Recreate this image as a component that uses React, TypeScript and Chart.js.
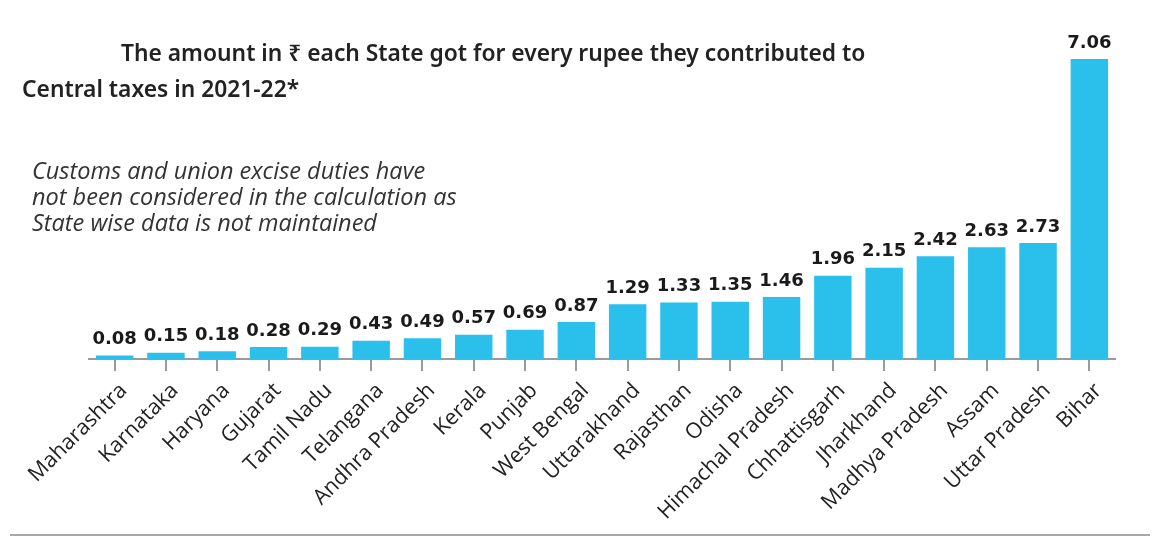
import React, { useEffect, useRef } from "react";
import { Chart, registerables } from "chart.js";

Chart.register(...registerables);

const states: string[] = [
  "Maharashtra", "Karnataka", "Haryana", "Gujarat", "Tamil Nadu", "Telangana",
  "Andhra Pradesh", "Kerala", "Punjab", "West Bengal", "Uttarakhand", "Rajasthan",
  "Odisha", "Himachal Pradesh", "Chhattisgarh", "Jharkhand", "Madhya Pradesh",
  "Assam", "Uttar Pradesh", "Bihar",
];
const amounts: number[] = [
  0.08, 0.15, 0.18, 0.28, 0.29, 0.43, 0.49, 0.57, 0.69, 0.87, 1.29, 1.33,
  1.35, 1.46, 1.96, 2.15, 2.42, 2.63, 2.73, 7.06,
];
const titleLine1 = "The amount in ₹ each State got for every rupee they contributed to";
const titleLine2 = "Central taxes in 2021-22*";
const noteLines: string[] = [
  "Customs and union excise duties have",
  "not been considered in the calculation as",
  "State wise data is not maintained",
];

const BAR_COLOR = "#2bbfec";

const valueLabels = {
  id: "valueLabels",
  afterDatasetsDraw(chart: any) {
    const ctx = chart.ctx;
    const meta = chart.getDatasetMeta(0);
    ctx.save();
    ctx.font = "bold 18px 'DejaVu Sans'";
    ctx.fillStyle = "#1a1a1a";
    ctx.textAlign = "center";
    ctx.textBaseline = "bottom";
    meta.data.forEach((bar: any, i: number) => {
      const v = chart.data.datasets[0].data[i];
      ctx.fillText(v.toFixed(2), bar.x, bar.y - 7);
    });
    ctx.restore();
  },
};

export default function App() {
  const ref = useRef<HTMLCanvasElement | null>(null);
  useEffect(() => {
    document.body.style.margin = "0";
    const chart = new Chart(ref.current as HTMLCanvasElement, {
      type: "bar",
      data: {
        labels: states,
        datasets: [
          {
            data: amounts,
            backgroundColor: BAR_COLOR,
            categoryPercentage: 1,
            barPercentage: 0.73,
          },
        ],
      },
      options: {
        animation: false,
        responsive: false,
        layout: { padding: { left: 89, right: 45, top: 59, bottom: 0 } },
        plugins: { legend: { display: false }, tooltip: { enabled: false }, title: { display: false } },
        scales: {
          y: { display: false, min: 0, max: 7.06 },
          x: {
            afterFit: (s: any) => {
              s.height = 184;
            },
            border: { display: true, color: "#9a9a9a", width: 2 },
            grid: {
              offset: false,
              drawOnChartArea: false,
              drawTicks: true,
              tickLength: 12,
              color: "#9a9a9a",
              lineWidth: 2,
            },
            ticks: {
              autoSkip: false,
              maxRotation: 45,
              minRotation: 45,
              color: "#222",
              padding: 7,
              labelOffset: 9,
              font: { family: "'Open Sans'", size: 21.5 },
            },
          },
        },
      },
      plugins: [valueLabels],
    });
    return () => chart.destroy();
  }, []);

  return (
    <div style={{ position: "relative", width: 1160, height: 543, background: "#fff", overflow: "hidden" }}>
      <canvas ref={ref} width={1160} height={543} style={{ position: "absolute", left: 0, top: 0 }} />
      <div
        style={{
          position: "absolute", left: 121, top: 40, lineHeight: "26px", whiteSpace: "nowrap",
          fontFamily: "'Noto Sans', sans-serif", fontWeight: 600, fontSize: 22.8, color: "#222",
        }}
      >
        {titleLine1}
      </div>
      <div
        style={{
          position: "absolute", left: 22, top: 76, lineHeight: "26px", whiteSpace: "nowrap",
          fontFamily: "'Noto Sans', sans-serif", fontWeight: 600, fontSize: 22.8, color: "#222",
        }}
      >
        {titleLine2}
      </div>
      <div
        style={{
          position: "absolute", left: 32, top: 157, lineHeight: "26px", whiteSpace: "nowrap",
          fontFamily: "'Open Sans', sans-serif", fontStyle: "italic", fontSize: 23.5, color: "#333",
        }}
      >
        {noteLines.map((l, i) => (
          <div key={i}>{l}</div>
        ))}
      </div>
      <div style={{ position: "absolute", left: 10, top: 534, width: 1140, height: 2, background: "#a8a8a8" }} />
    </div>
  );
}
